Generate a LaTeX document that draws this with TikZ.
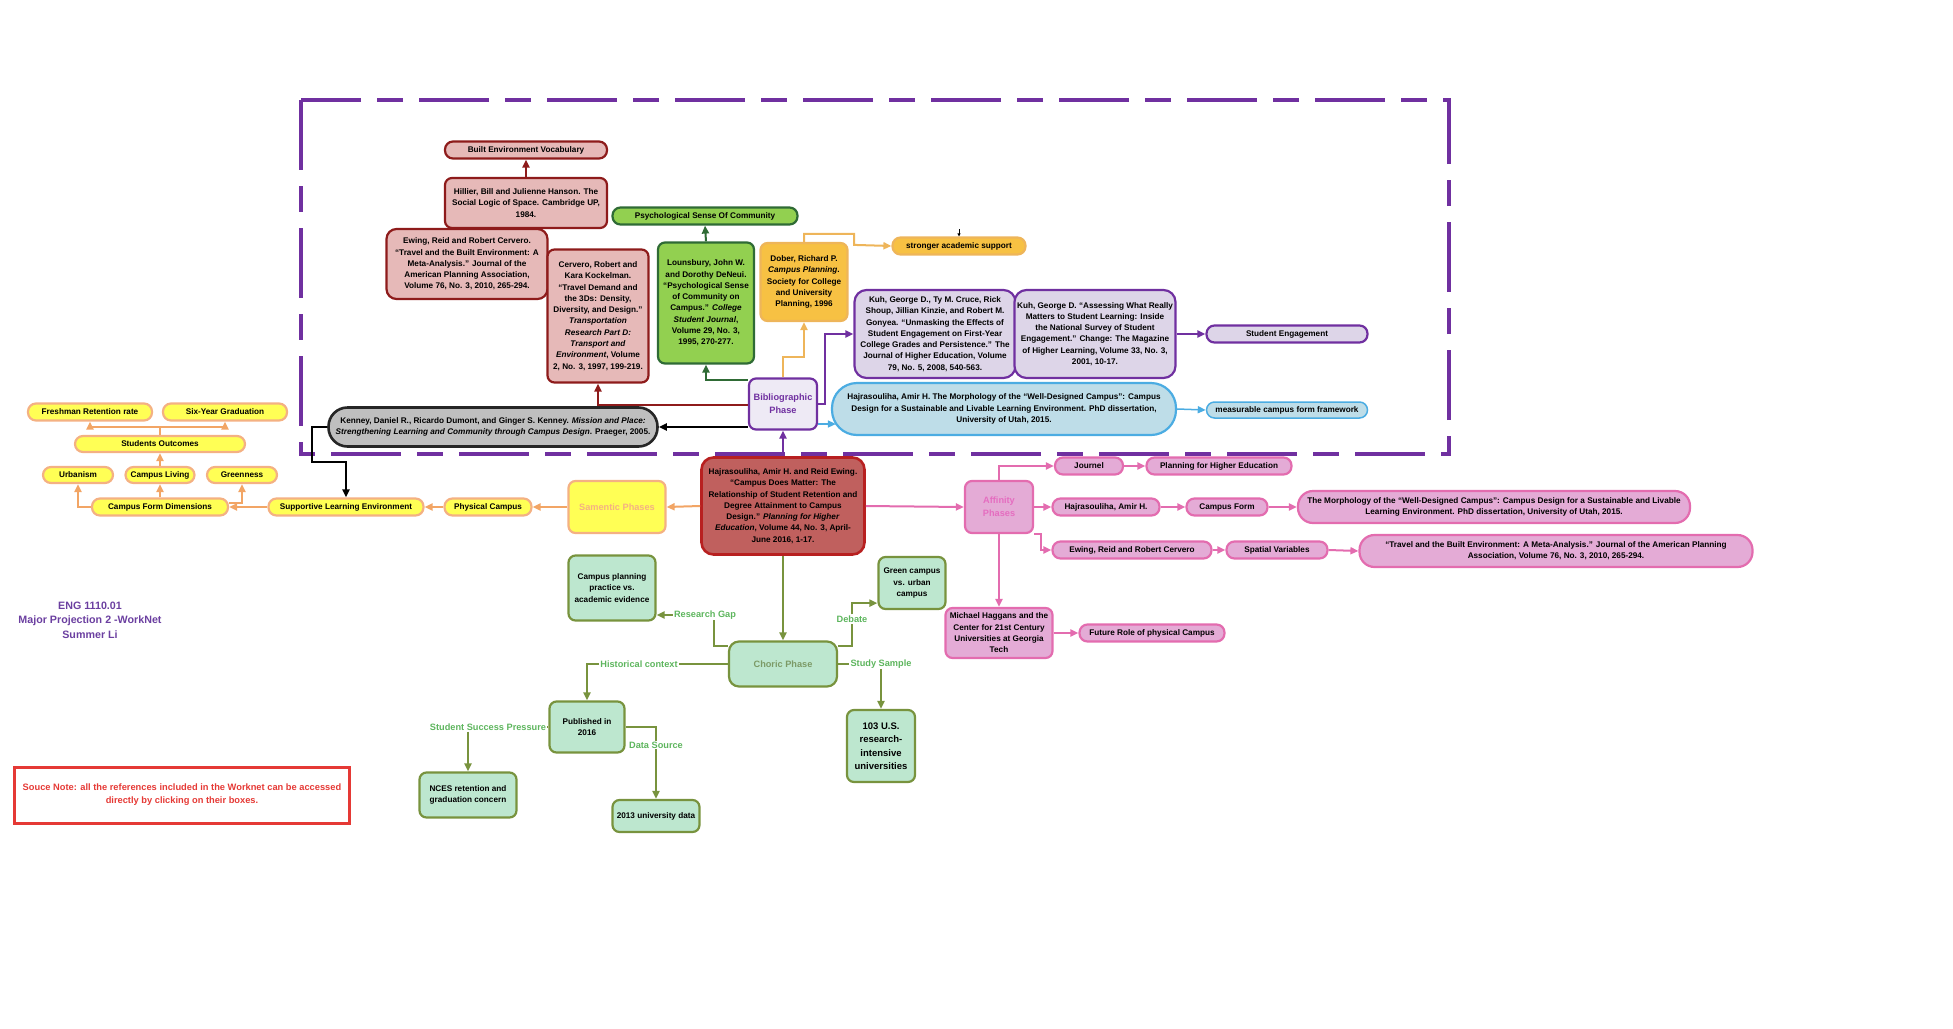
\documentclass[tikz,border=0pt]{standalone}
\usepackage{fontspec}
\setmainfont{Liberation Sans}
\usetikzlibrary{positioning, calc, arrows.meta}

\definecolor{bordred}{HTML}{8E1B1B}
\definecolor{fillred}{HTML}{E6B9B8}
\definecolor{hajfill}{HTML}{C0605E}
\definecolor{hajbord}{HTML}{B82020}
\definecolor{dkgreen}{HTML}{2F6B35}
\definecolor{ltgreen}{HTML}{92D050}
\definecolor{amber}{HTML}{F7C143}
\definecolor{amberln}{HTML}{EEB55A}
\definecolor{vio}{HTML}{7030A0}
\definecolor{lavender}{HTML}{DDD5E8}
\definecolor{biblfill}{HTML}{EEEAF5}
\definecolor{skyln}{HTML}{4BACE2}
\definecolor{skyfill}{HTML}{BEDDE8}
\definecolor{grayfill}{HTML}{BFBFBF}
\definecolor{yel}{HTML}{FFFF55}
\definecolor{peach}{HTML}{F4B183}
\definecolor{peachln}{HTML}{F2A565}
\definecolor{pinkln}{HTML}{E36CAF}
\definecolor{pinkfill}{HTML}{E4ABD6}
\definecolor{pinktxt}{HTML}{E46DC0}
\definecolor{mint}{HTML}{BDE7CF}
\definecolor{olive}{HTML}{78933E}
\definecolor{lblgreen}{HTML}{5DB55D}
\definecolor{chorictxt}{HTML}{7C9A66}
\definecolor{notered}{HTML}{E53935}
\definecolor{headvio}{HTML}{6B3FA0}

\newcommand{\boxfont}{\fontsize{8.2}{11.3}\selectfont\bfseries}
\newcommand{\phasefont}{\fontsize{9.2}{13}\selectfont\bfseries}

\tikzset{
  box/.style={draw, line width=2.2pt, rounded corners=7pt, align=center, inner sep=1pt, font=\boxfont, text=black},
  pill/.style={box, rounded corners=8pt, minimum height=17pt},
  redc/.style={draw=bordred, fill=fillred},
  hajc/.style={draw=hajbord, fill=hajfill},
  psyc/.style={draw=dkgreen, fill=ltgreen},
  amberc/.style={draw=amberln, fill=amber},
  vioc/.style={draw=vio, fill=lavender},
  skyc/.style={draw=skyln, fill=skyfill},
  grayc/.style={draw=black!85, fill=grayfill},
  yelc/.style={draw=peach, fill=yel},
  pinkc/.style={draw=pinkln, fill=pinkfill},
  mintc/.style={draw=olive, fill=mint},
  link/.style={line width=2pt, ->},
  redln/.style={link, draw=bordred},
  dgln/.style={link, draw=dkgreen},
  amln/.style={link, draw=amberln},
  violn/.style={link, draw=vio},
  skyln/.style={link, draw=skyln, line width=1.5pt},
  kln/.style={link, draw=black},
  yln/.style={link, draw=peachln},
  pln/.style={link, draw=pinkln},
  oln/.style={link, draw=olive},
  lbl/.style={font=\phasefont, text=lblgreen, inner sep=1pt},
}

\begin{document}
\begin{tikzpicture}[x=1pt, y=-1pt, >={Triangle[length=8pt,width=7pt]}]
  \useasboundingbox (0,0) rectangle (1953,1028);

  % Bibliographic frame
  \draw[vio, line width=3.5pt, dash pattern=on 70pt off 16pt on 26pt off 16pt] (301,100) rectangle (1449,454);

  % Bibliographic phase
  \node[pill, redc, minimum width=162pt] (bev) at (526,150) {Built Environment Vocabulary};
  \node[box, redc, minimum width=162pt, minimum height=50pt] (hillier) at (526,203)
    {Hillier, Bill and Julienne Hanson. The\\Social Logic of Space. Cambridge UP,\\1984.};
  \node[box, redc, minimum width=161pt, minimum height=70pt, rounded corners=10pt] (ewing) at (467,264)
    {Ewing, Reid and Robert Cervero.\\“Travel and the Built Environment: A\\Meta-Analysis.” Journal of the\\American Planning Association,\\Volume 76, No. 3, 2010, 265-294.};
  \node[box, redc, minimum width=101pt, minimum height=133pt] (cervero) at (598,316)
    {Cervero, Robert and\\Kara Kockelman.\\“Travel Demand and\\the 3Ds: Density,\\Diversity, and Design.”\\\textit{Transportation}\\\textit{Research Part D:}\\\textit{Transport and}\\\textit{Environment}, Volume\\2, No. 3, 1997, 199-219.};
  \node[pill, psyc, minimum width=185pt] (psych) at (705,216) {Psychological Sense Of Community};
  \node[box, psyc, minimum width=96pt, minimum height=121pt] (louns) at (706,303)
    {Lounsbury, John W.\\and Dorothy DeNeui.\\“Psychological Sense\\of Community on\\Campus.” \textit{College}\\\textit{Student Journal},\\Volume 29, No. 3,\\1995, 270-277.};
  \node[box, amberc, minimum width=87pt, minimum height=78pt] (dober) at (804,282)
    {Dober, Richard P.\\\textit{Campus Planning}.\\Society for College\\and University\\Planning, 1996};
  \node[pill, amberc, minimum width=133pt] (stronger) at (959,246) {stronger academic support};
  \node[box, vioc, minimum width=161pt, minimum height=88pt, rounded corners=12pt] (kuhA) at (935,334)
    {Kuh, George D., Ty M. Cruce, Rick\\Shoup, Jillian Kinzie, and Robert M.\\Gonyea. “Unmasking the Effects of\\Student Engagement on First-Year\\College Grades and Persistence.” The\\Journal of Higher Education, Volume\\79, No. 5, 2008, 540-563.};
  \node[box, vioc, minimum width=161pt, minimum height=88pt, rounded corners=12pt] (kuhB) at (1095,334)
    {Kuh, George D. “Assessing What Really\\Matters to Student Learning: Inside\\the National Survey of Student\\Engagement.” Change: The Magazine\\of Higher Learning, Volume 33, No. 3,\\2001, 10-17.};
  \node[pill, vioc, minimum width=161pt] (stueng) at (1287,334) {Student Engagement};
  \node[box, draw=vio, fill=biblfill, minimum width=68pt, minimum height=51pt, font=\phasefont, text=vio] (biblio) at (783,404)
    {Bibliographic\\Phase};
  \node[box, skyc, minimum width=344pt, minimum height=52pt, rounded corners=25pt] (blue) at (1004,409)
    {Hajrasouliha, Amir H. The Morphology of the “Well-Designed Campus”: Campus\\Design for a Sustainable and Livable Learning Environment. PhD dissertation,\\University of Utah, 2015.};
  \node[pill, skyc, line width=1.5pt, minimum width=161pt, minimum height=16pt] (measurable) at (1287,410) {measurable campus form framework};
  \node[box, grayc, line width=2.6pt, minimum width=329pt, minimum height=39pt, rounded corners=19pt, font=\fontsize{8.2}{11}\selectfont\bfseries] (kenney) at (493,427)
    {Kenney, Daniel R., Ricardo Dumont, and Ginger S. Kenney. \textit{Mission and Place:}\\\textit{Strengthening Learning and Community through Campus Design}. Praeger, 2005.};

  % Central reference
  \node[box, hajc, line width=2.6pt, minimum width=163pt, minimum height=97pt, rounded corners=12pt] (hajra16) at (783,506)
    {Hajrasouliha, Amir H. and Reid Ewing.\\“Campus Does Matter: The\\Relationship of Student Retention and\\Degree Attainment to Campus\\Design.” \textit{Planning for Higher}\\\textit{Education}, Volume 44, No. 3, April-\\June 2016, 1-17.};

  % Semantic phase
  \node[box, yelc, minimum width=97pt, minimum height=52pt, font=\phasefont, text=peach] (samentic) at (617,507) {Samentic Phases};
  \node[pill, yelc, minimum width=87pt] (physical) at (488,507) {Physical Campus};
  \node[pill, yelc, minimum width=155pt] (supportive) at (346,507) {Supportive Learning Environment};
  \node[pill, yelc, minimum width=136pt] (cfd) at (160,507) {Campus Form Dimensions};
  \node[pill, yelc, minimum width=70pt, minimum height=16pt] (urban) at (78,475) {Urbanism};
  \node[pill, yelc, minimum width=69pt, minimum height=16pt] (living) at (160,475) {Campus Living};
  \node[pill, yelc, minimum width=70pt, minimum height=16pt] (greenness) at (242,475) {Greenness};
  \node[pill, yelc, minimum width=170pt, minimum height=16pt] (outcomes) at (160,444) {Students Outcomes};
  \node[pill, yelc, minimum width=124pt] (fresh) at (90,412) {Freshman Retention rate};
  \node[pill, yelc, minimum width=124pt] (sixyr) at (225,412) {Six-Year Graduation};

  % Affinity phase
  \node[box, pinkc, minimum width=68pt, minimum height=52pt, font=\phasefont, text=pinktxt] (affinity) at (999,507) {Affinity\\Phases};
  \node[pill, pinkc, minimum width=68pt] (journel) at (1089,466) {Journel};
  \node[pill, pinkc, minimum width=145pt] (phe) at (1219,466) {Planning for Higher Education};
  \node[pill, pinkc, minimum width=107pt] (hajraA) at (1106,507) {Hajrasouliha, Amir H.};
  \node[pill, pinkc, minimum width=81pt] (campform) at (1227,507) {Campus Form};
  \node[box, pinkc, minimum width=392pt, minimum height=32pt, rounded corners=15pt] (morph) at (1494,507)
    {The Morphology of the “Well-Designed Campus”: Campus Design for a Sustainable and Livable\\Learning Environment. PhD dissertation, University of Utah, 2015.};
  \node[pill, pinkc, minimum width=159pt] (ewingB) at (1132,550) {Ewing, Reid and Robert Cervero};
  \node[pill, pinkc, minimum width=101pt] (spatial) at (1277,550) {Spatial Variables};
  \node[box, pinkc, minimum width=393pt, minimum height=32pt, rounded corners=15pt] (travel) at (1556,551)
    {“Travel and the Built Environment: A Meta-Analysis.” Journal of the American Planning\\Association, Volume 76, No. 3, 2010, 265-294.};
  \node[box, pinkc, minimum width=107pt, minimum height=50pt] (haggans) at (999,633)
    {Michael Haggans and the\\Center for 21st Century\\Universities at Georgia\\Tech};
  \node[pill, pinkc, minimum width=145pt] (future) at (1152,633) {Future Role of physical Campus};

  % Choric phase
  \node[box, mintc, minimum width=87pt, minimum height=65pt] (cpp) at (612,588) {Campus planning\\practice vs.\\academic evidence};
  \node[box, mintc, minimum width=67pt, minimum height=52pt] (gcu) at (912,583) {Green campus\\vs. urban\\campus};
  \node[box, mintc, minimum width=108pt, minimum height=45pt, rounded corners=10pt, font=\phasefont, text=chorictxt] (choric) at (783,664) {Choric Phase};
  \node[box, mintc, minimum width=75pt, minimum height=51pt] (pub) at (587,727) {Published in\\2016};
  \node[box, mintc, minimum width=97pt, minimum height=45pt] (nces) at (468,795) {NCES retention and\\graduation concern};
  \node[box, mintc, minimum width=87pt, minimum height=32pt] (data13) at (656,816) {2013 university data};
  \node[box, mintc, minimum width=68pt, minimum height=72pt, font=\fontsize{9.5}{13.5}\selectfont\bfseries] (us103) at (881,746)
    {103 U.S.\\research-\\intensive\\universities};

  \node[lbl] (gap) at (705,615) {Research Gap};
  \node[lbl] (debate) at (852,619) {Debate};
  \node[lbl] (hist) at (639,664) {Historical context};
  \node[lbl] (ssp) at (488,727) {Student Success Pressure};
  \node[lbl] (datasrc) at (656,745) {Data Source};
  \node[lbl] (study) at (881,664) {Study Sample};

  % Title and note
  \node[align=center, font=\fontsize{10.7}{14.5}\selectfont\bfseries, text=headvio] (title) at (90,620)
    {ENG 1110.01\\Major Projection 2 -WorkNet\\Summer Li};
  \node[draw=notered, line width=3pt, minimum width=335pt, minimum height=56pt, align=center, text=notered, font=\fontsize{9.3}{13}\selectfont\bfseries] (note) at (182,795)
    {Souce Note: all the references included in the Worknet can be accessed\\directly by clicking on their boxes.};

  % Connectors: bibliographic
  \draw[violn] (hajra16.north) -- (biblio.south);
  \draw[redln] ([yshift=-1pt]biblio.west) -| (cervero.south);
  \draw[redln] (hillier.north) -- (bev.south);
  \draw[dgln] ([yshift=-3pt]biblio.north west) -| (louns.south);
  \draw[dgln] (louns.north) -- (psych.south);
  \draw[amln] (biblio.north) -- ++(0,-20) -| (dober.south);
  \draw[amln] (dober.north) -- ++(0,-8) -| ++(50,11) -- (stronger.west);
  \coordinate (tick) at (959,229);
  \draw[black, line width=0.8pt, -{Triangle[length=3pt,width=3pt]}] (tick) -- (stronger.north);
  \draw[violn] (biblio.east) -- ++(7,0) |- (kuhA.west);
  \draw[violn] (kuhB.east) -- (stueng.west);
  \draw[skyln] ([yshift=-20pt]biblio.east) -- ([yshift=-20pt,xshift=5pt]biblio.east -| blue.west);
  \draw[skyln] (blue.east) -- (measurable.west);
  \draw[kln] (kenney.east -| biblio.west) -- (kenney.east);
  \draw[kln] (kenney.west) -- ++(-15,0) -- ++(0,35) -| (supportive.north);

  % Connectors: semantic
  \draw[yln] (hajra16.west) -- (samentic.east);
  \draw[yln] (samentic.west) -- (physical.east);
  \draw[yln] (physical.west) -- (supportive.east);
  \draw[yln] (supportive.west) -- (cfd.east);
  \draw[yln] (cfd.west) -| (urban.south);
  \draw[yln] (cfd.north) -- (living.south);
  \draw[yln] ([yshift=4pt]cfd.east) -| (greenness.south);
  \draw[yln] (living.north) -- (outcomes.south);
  \draw[yln, -] (outcomes.north) -- ++(0,-8) coordinate (split);
  \draw[yln] (split) -| (fresh.south);
  \draw[yln] (split) -| (sixyr.south);

  % Connectors: affinity
  \draw[pln] (hajra16.east) -- (affinity.west);
  \draw[pln] (affinity.north) |- (journel.west);
  \draw[pln] (journel.east) -- (phe.west);
  \draw[pln] (affinity.east) -- (hajraA.west);
  \draw[pln] (hajraA.east) -- (campform.west);
  \draw[pln] (campform.east) -- (morph.west);
  \draw[pln] (affinity.south east) -- ++(7,0) |- (ewingB.west);
  \draw[pln] (ewingB.east) -- (spatial.west);
  \draw[pln] (spatial.east) -- (travel.west);
  \draw[pln] (affinity.south) -- (haggans.north);
  \draw[pln] (haggans.east) -- (future.west);

  % Connectors: choric
  \draw[oln] (hajra16.south) -- (choric.north);
  \draw[oln, -] ([yshift=-6pt]choric.north west) -| ([xshift=9pt]gap.south);
  \draw[oln] (gap.west) -- (cpp.east |- gap.west);
  \draw[oln, -] ([yshift=-6pt]choric.north east) -| (debate.south);
  \draw[oln] (debate.north) |- ([yshift=7pt]gcu.south west);
  \draw[oln, -] (choric.west) -- (hist.east);
  \draw[oln] (hist.west) -| (pub.north);
  \draw[oln, -] (pub.west) -- (ssp.east);
  \draw[oln] (ssp.south -| nces.north) -- (nces.north);
  \draw[oln, -] (pub.east) -| (datasrc.north);
  \draw[oln] (datasrc.south) -- (data13.north);
  \draw[oln, -] (choric.east) -- (study.west);
  \draw[oln] (study.south) -- (us103.north);
\end{tikzpicture}
\end{document}
